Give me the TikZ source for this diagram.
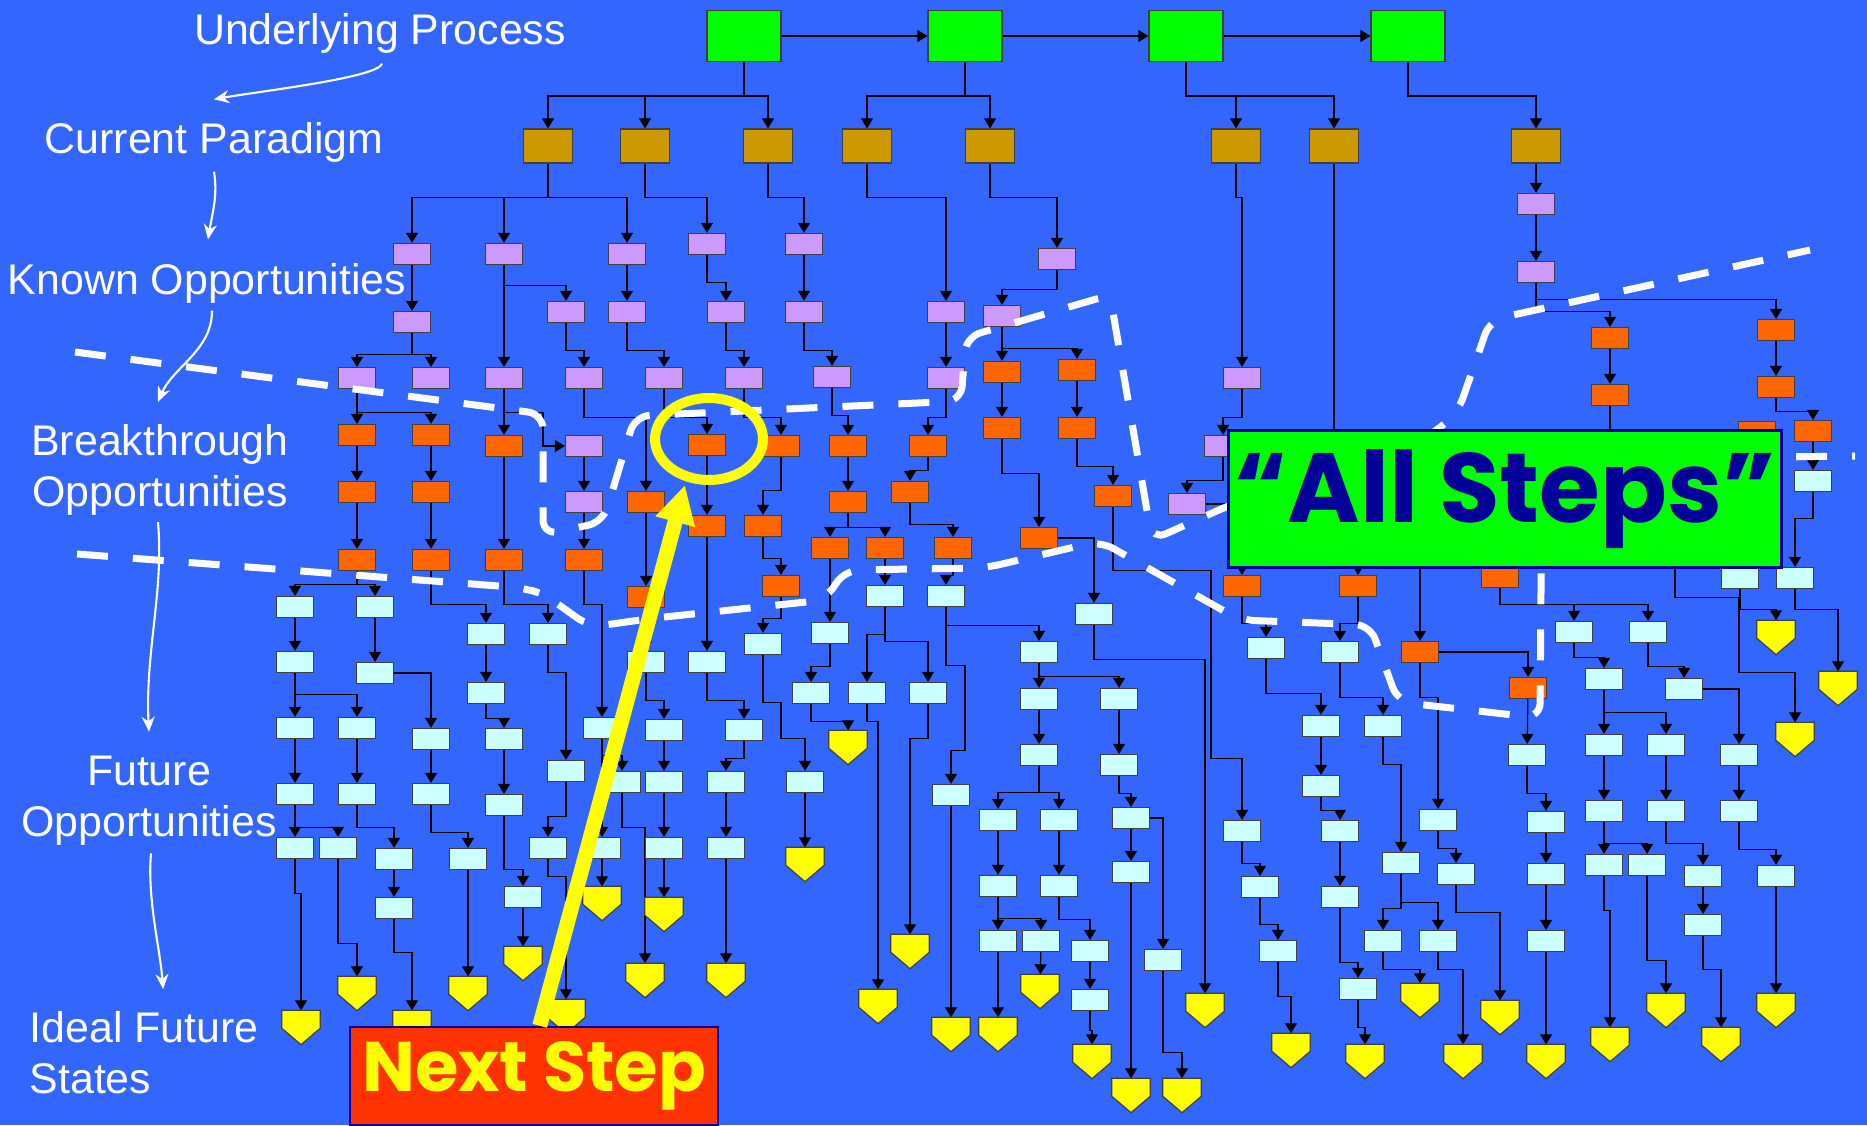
\documentclass[tikz,border=0pt]{standalone}
\usepackage{fontspec}
\setmainfont{Liberation Sans}
\newfontfamily\comicfont{Poppins}
\usepackage{tikz}
\usetikzlibrary{arrows.meta, backgrounds, calc}

\definecolor{slideblue}{HTML}{3366FF}
\definecolor{stagegreen}{HTML}{00FF00}
\definecolor{paradigmgold}{HTML}{CC9900}
\definecolor{knownlilac}{HTML}{CC99FF}
\definecolor{breakorange}{HTML}{FF6600}
\definecolor{futurecyan}{HTML}{CCFFFF}
\definecolor{idealyellow}{HTML}{FFFF00}
\definecolor{nextred}{HTML}{FF3300}
\definecolor{calloutnavy}{HTML}{000099}

% yellow end state: invisible node + pentagon drawn on it
\newcommand{\idealnode}[2]{%
  \node[idealbox] (#1) at (#2) {};
  \filldraw[idealfill] (#1.north west) -- (#1.north east)
    -- ([yshift=-1.8mm]#1.north east) -- (#1.south)
    -- ([yshift=-1.8mm]#1.north west) -- cycle;
}

\begin{document}
\begin{tikzpicture}[
    x=0.1mm, y=-0.1mm,
    >={Triangle[length=1.0mm, width=1.2mm]},
    tile/.style={
        draw=black!75, line width=0.35pt, inner sep=0pt,
        minimum width=3.7mm, minimum height=2.1mm,
    },
    stagebox/.style={tile, fill=stagegreen, minimum width=7.4mm, minimum height=5.1mm},
    paradigmbox/.style={tile, fill=paradigmgold, minimum width=4.9mm, minimum height=3.4mm},
    knownbox/.style={tile, fill=knownlilac},
    breakbox/.style={tile, fill=breakorange},
    futurebox/.style={tile, fill=futurecyan},
    idealbox/.style={inner sep=0pt, minimum width=3.7mm, minimum height=3.3mm},
    idealfill/.style={fill=idealyellow, draw=black!75, line width=0.35pt},
    arr/.style={->, line width=0.35pt},
    lbl/.style={text=white, inner sep=0pt, font=\fontsize{12.2}{14.5}\selectfont},
    warr/.style={white, line width=0.6pt, -{Stealth[length=1.5mm, width=1.3mm]}},
    boundary/.style={white, line width=0.7mm, dash pattern=on 3.1mm off 2.5mm,
        rounded corners=1.5mm},
    ring/.style={draw=idealyellow, line width=1mm},
    pointer/.style={draw=idealyellow, line width=1.5mm,
        -{Triangle[length=3.8mm, width=3.8mm]}},
    callout/.style={draw=calloutnavy, line width=0.25mm, inner sep=0pt},
]

\useasboundingbox (0,0) rectangle (1867,1125);
\begin{scope}[on background layer]
\fill[slideblue] (0,0) rectangle (1867,1125);
\end{scope}

% --- Underlying process -------------------------------------
\node[stagebox] (g1) at (744,36) {};
\node[stagebox] (g2) at (965,36) {};
\node[stagebox] (g3) at (1186,36) {};
\node[stagebox] (g4) at (1408,36) {};

% --- Current paradigm ---------------------------------------
\node[paradigmbox] (p1) at (548,146) {};
\node[paradigmbox] (p2) at (645,146) {};
\node[paradigmbox] (p3) at (768,146) {};
\node[paradigmbox] (p4) at (867,146) {};
\node[paradigmbox] (p5) at (990,146) {};
\node[paradigmbox] (p6) at (1236,146) {};
\node[paradigmbox] (p7) at (1334,146) {};
\node[paradigmbox] (p8) at (1536,146) {};

% --- Known opportunities ------------------------------------
\node[knownbox] (k1) at (412,254) {};
\node[knownbox] (k2) at (504,254) {};
\node[knownbox] (k3) at (627,254) {};
\node[knownbox] (k4) at (707,244) {};
\node[knownbox] (k5) at (804,244) {};
\node[knownbox] (k6) at (946,312) {};
\node[knownbox] (k7) at (1057,259) {};
\node[knownbox] (k8) at (412,322) {};
\node[knownbox] (k9) at (566,312) {};
\node[knownbox] (k10) at (627,312) {};
\node[knownbox] (k11) at (726,312) {};
\node[knownbox] (k12) at (804,312) {};
\node[knownbox] (k13) at (1002,316) {};
\node[knownbox] (k14) at (357,378) {};
\node[knownbox] (k15) at (431,378) {};
\node[knownbox] (k16) at (504,378) {};
\node[knownbox] (k17) at (584,378) {};
\node[knownbox] (k18) at (664,378) {};
\node[knownbox] (k19) at (744,378) {};
\node[knownbox] (k20) at (832,377) {};
\node[knownbox] (k21) at (946,378) {};
\node[knownbox] (k22) at (1242,378) {};
\node[knownbox] (k23) at (1536,204) {};
\node[knownbox] (k24) at (1536,272) {};
\node[knownbox] (k25) at (584,446) {};
\node[knownbox] (k26) at (584,502) {};
\node[knownbox] (k27) at (1223,446) {};
\node[knownbox] (k28) at (1187,504) {};

% --- Breakthrough opportunities -----------------------------
\node[breakbox] (b1) at (357,435) {};
\node[breakbox] (b2) at (431,435) {};
\node[breakbox] (b3) at (357,492) {};
\node[breakbox] (b4) at (431,492) {};
\node[breakbox] (b5) at (357,560) {};
\node[breakbox] (b6) at (431,560) {};
\node[breakbox] (b7) at (504,446) {};
\node[breakbox] (b8) at (504,560) {};
\node[breakbox] (b9) at (584,560) {};
\node[breakbox] (b10) at (646,502) {};
\node[breakbox] (b11) at (646,597) {};
\node[breakbox] (b12) at (707,445) {};
\node[breakbox] (b13) at (707,526) {};
\node[breakbox] (b14) at (781,446) {};
\node[breakbox] (b15) at (763,526) {};
\node[breakbox] (b16) at (781,586) {};
\node[breakbox] (b17) at (848,446) {};
\node[breakbox] (b18) at (848,502) {};
\node[breakbox] (b19) at (830,548) {};
\node[breakbox] (b20) at (885,548) {};
\node[breakbox] (b21) at (928,446) {};
\node[breakbox] (b22) at (910,492) {};
\node[breakbox] (b23) at (953,548) {};
\node[breakbox] (b24) at (1002,372) {};
\node[breakbox] (b25) at (1077,370) {};
\node[breakbox] (b26) at (1002,428) {};
\node[breakbox] (b27) at (1077,428) {};
\node[breakbox] (b28) at (1039,538) {};
\node[breakbox] (b29) at (1113,496) {};
\node[breakbox] (b30) at (1242,586) {};
\node[breakbox] (b31) at (1358,586) {};
\node[breakbox] (b32) at (1420,652) {};
\node[breakbox] (b33) at (1500,577) {};
\node[breakbox] (b34) at (1528,688) {};
\node[breakbox] (b35) at (1610,338) {};
\node[breakbox] (b36) at (1610,395) {};
\node[breakbox] (b37) at (1776,330) {};
\node[breakbox] (b38) at (1776,387) {};
\node[breakbox] (b39) at (1757,432) {};
\node[breakbox] (b40) at (1813,431) {};

% --- Future opportunities -----------------------------------
\node[futurebox] (f1) at (295,607) {};
\node[futurebox] (f2) at (375,607) {};
\node[futurebox] (f3) at (295,662) {};
\node[futurebox] (f4) at (375,673) {};
\node[futurebox] (f5) at (295,728) {};
\node[futurebox] (f6) at (357,728) {};
\node[futurebox] (f7) at (431,739) {};
\node[futurebox] (f8) at (486,634) {};
\node[futurebox] (f9) at (486,693) {};
\node[futurebox] (f10) at (504,739) {};
\node[futurebox] (f11) at (548,634) {};
\node[futurebox] (f12) at (566,771) {};
\node[futurebox] (f13) at (602,728) {};
\node[futurebox] (f14) at (646,662) {};
\node[futurebox] (f15) at (664,730) {};
\node[futurebox] (f16) at (707,662) {};
\node[futurebox] (f17) at (744,730) {};
\node[futurebox] (f18) at (763,644) {};
\node[futurebox] (f19) at (830,633) {};
\node[futurebox] (f20) at (885,596) {};
\node[futurebox] (f21) at (946,596) {};
\node[futurebox] (f22) at (811,693) {};
\node[futurebox] (f23) at (867,693) {};
\node[futurebox] (f24) at (928,693) {};
\node[futurebox] (f25) at (1039,652) {};
\node[futurebox] (f26) at (951,795) {};
\node[futurebox] (f27) at (1039,699) {};
\node[futurebox] (f28) at (1119,699) {};
\node[futurebox] (f29) at (1039,755) {};
\node[futurebox] (f30) at (998,820) {};
\node[futurebox] (f31) at (1059,820) {};
\node[futurebox] (f32) at (998,886) {};
\node[futurebox] (f33) at (998,941) {};
\node[futurebox] (f34) at (1041,941) {};
\node[futurebox] (f35) at (1059,886) {};
\node[futurebox] (f36) at (1090,951) {};
\node[futurebox] (f37) at (1090,1000) {};
\node[futurebox] (f38) at (1119,765) {};
\node[futurebox] (f39) at (1131,818) {};
\node[futurebox] (f40) at (1131,872) {};
\node[futurebox] (f41) at (1163,960) {};
\node[futurebox] (f42) at (1094,614) {};
\node[futurebox] (f43) at (1242,831) {};
\node[futurebox] (f44) at (1260,887) {};
\node[futurebox] (f45) at (1278,951) {};
\node[futurebox] (f46) at (1266,648) {};
\node[futurebox] (f47) at (1340,652) {};
\node[futurebox] (f48) at (1321,726) {};
\node[futurebox] (f49) at (1383,726) {};
\node[futurebox] (f50) at (1321,786) {};
\node[futurebox] (f51) at (1340,831) {};
\node[futurebox] (f52) at (1340,897) {};
\node[futurebox] (f53) at (1358,989) {};
\node[futurebox] (f54) at (1401,863) {};
\node[futurebox] (f55) at (1383,941) {};
\node[futurebox] (f56) at (1438,941) {};
\node[futurebox] (f57) at (1438,820) {};
\node[futurebox] (f58) at (1456,874) {};
\node[futurebox] (f59) at (1527,755) {};
\node[futurebox] (f60) at (1546,822) {};
\node[futurebox] (f61) at (1546,874) {};
\node[futurebox] (f62) at (1546,941) {};
\node[futurebox] (f63) at (1574,632) {};
\node[futurebox] (f64) at (1648,632) {};
\node[futurebox] (f65) at (1604,679) {};
\node[futurebox] (f66) at (1604,745) {};
\node[futurebox] (f67) at (1666,745) {};
\node[futurebox] (f68) at (1684,689) {};
\node[futurebox] (f69) at (1739,755) {};
\node[futurebox] (f70) at (1604,811) {};
\node[futurebox] (f71) at (1604,865) {};
\node[futurebox] (f72) at (1647,865) {};
\node[futurebox] (f73) at (1666,811) {};
\node[futurebox] (f74) at (1703,876) {};
\node[futurebox] (f75) at (1703,925) {};
\node[futurebox] (f76) at (1739,811) {};
\node[futurebox] (f77) at (1776,876) {};
\node[futurebox] (f78) at (1813,481) {};
\node[futurebox] (f79) at (1795,578) {};
\node[futurebox] (f80) at (1740,578) {};
\node[futurebox] (f81) at (295,794) {};
\node[futurebox] (f82) at (357,794) {};
\node[futurebox] (f83) at (431,794) {};
\node[futurebox] (f84) at (504,805) {};
\node[futurebox] (f85) at (295,848) {};
\node[futurebox] (f86) at (338,848) {};
\node[futurebox] (f87) at (394,859) {};
\node[futurebox] (f88) at (394,908) {};
\node[futurebox] (f89) at (468,859) {};
\node[futurebox] (f90) at (523,897) {};
\node[futurebox] (f91) at (548,848) {};
\node[futurebox] (f92) at (622,782) {};
\node[futurebox] (f93) at (602,848) {};
\node[futurebox] (f94) at (664,782) {};
\node[futurebox] (f95) at (664,848) {};
\node[futurebox] (f96) at (726,782) {};
\node[futurebox] (f97) at (726,848) {};
\node[futurebox] (f98) at (805,782) {};

% --- Ideal future states ------------------------------------
\idealnode{e1}{301,1027.5}
\idealnode{e2}{357,993.5}
\idealnode{e3}{412,1027.5}
\idealnode{e4}{468,993.5}
\idealnode{e5}{523,963.5}
\idealnode{e6}{566,1016.5}
\idealnode{e7}{602,903.5}
\idealnode{e8}{645,980.5}
\idealnode{e9}{664,914.5}
\idealnode{e10}{726,980.5}
\idealnode{e11}{805,864.5}
\idealnode{e12}{848,747.5}
\idealnode{e13}{878,1006.5}
\idealnode{e14}{910,951.5}
\idealnode{e15}{951,1034.5}
\idealnode{e16}{998,1034.5}
\idealnode{e17}{1040,991.5}
\idealnode{e18}{1092,1061.5}
\idealnode{e19}{1131,1095.5}
\idealnode{e20}{1182,1095.5}
\idealnode{e21}{1205,1010.5}
\idealnode{e22}{1291,1050.5}
\idealnode{e23}{1365,1061.5}
\idealnode{e24}{1420,1000.5}
\idealnode{e25}{1463,1061.5}
\idealnode{e26}{1500,1017.5}
\idealnode{e27}{1546,1061.5}
\idealnode{e28}{1610,1044.5}
\idealnode{e29}{1666,1010.5}
\idealnode{e30}{1721,1044.5}
\idealnode{e31}{1776,1010.5}
\idealnode{e32}{1776,637.5}
\idealnode{e33}{1795,739.5}
\idealnode{e34}{1838,688.5}

% --- Connectors ---------------------------------------------
\begin{scope}[on background layer]
\draw[arr] (g1) -- (g2);
\draw[arr] (g2) -- (g3);
\draw[arr] (g3) -- (g4);
\draw[arr] (g1.south) -- ++(0,34) -| (p1.north);
\draw[arr] (g1.south) -- ++(0,34) -| (p2.north);
\draw[arr] (g1.south) -- ++(0,34) -| (p3.north);
\draw[arr] (g2.south) -- ++(0,34) -| (p4.north);
\draw[arr] (g2.south) -- ++(0,34) -| (p5.north);
\draw[arr] (g3.south) -- ++(0,34) -| (p6.north);
\draw[arr] (g3.south) -- ++(0,34) -| (p7.north);
\draw[arr] (g4.south) -- ++(0,34) -| (p8.north);

\draw[arr] (p1.south) -- ++(0,34) -| (k1.north);
\draw[arr] (p1.south) -- ++(0,34) -| (k2.north);
\draw[arr] (p1.south) -- ++(0,34) -| (k3.north);
\draw[arr] (p2.south) -- ++(0,34) -| (k4.north);
\draw[arr] (p3.south) -- ++(0,34) -| (k5.north);
\draw[arr] (p4.south) -- ++(0,34) -| (k6.north);
\draw[arr] (p5.south) -- ++(0,34) -| (k7.north);
\draw[arr] (p6.south) -- ++(0,34) -| (k22.north);
\draw[arr] (p8) -- (k23);
\draw[arr] (p7.south) -- ++(0,330) -| (b32.north);

\draw[arr] (k1) -- (k8);
\draw[arr] (k2.south) -- ++(0,20) -| (k9.north);
\draw[arr] (k2) -- (k16);
\draw[arr] (k3) -- (k10);
\draw[arr] (k4.south) -- ++(0,27) -| (k11.north);
\draw[arr] (k5) -- (k12);
\draw[arr] (k6) -- (k21);
\draw[arr] (k7.south) -- ++(0,19) -| (k13.north);
\draw[arr] (k8.south) -- ++(0,21) -| (k14.north);
\draw[arr] (k8.south) -- ++(0,21) -| (k15.north);
\draw[arr] (k9.south) -- ++(0,27) -| (k17.north);
\draw[arr] (k10.south) -- ++(0,27) -| (k18.north);
\draw[arr] (k11.south) -- ++(0,27) -| (k19.north);
\draw[arr] (k12.south) -- ++(0,27) -| (k20.north);
\draw[arr] (k13.south) -- ++(0,21) -| (b24.north);
\draw[arr] (k13.south) -- ++(0,21) -| (b25.north);
\draw[arr] (k23) -- (k24);
\draw[arr] (k24.south) -- ++(0,16.5) -| (b37.north);
\draw[arr] (k24.south) -- ++(0,28.5) -| (b35.north);
\draw[arr] (k22.south) -- ++(0,28.5) -| (k27.north);
\draw[arr] (k27.south) -- ++(0,23.5) -| (k28.north);
\draw[arr] (k16.south) |- ++(39,23.5) |- (k25.west);
\draw[arr] (k25) -- (k26);
\draw[arr] (k26) -- (b9);
\draw[arr] (k14.south) -- ++(0,23.5) -| (b1.north);
\draw[arr] (k14.south) -- ++(0,23.5) -| (b2.north);
\draw[arr] (k16) -- (b7);
\draw[arr] (k17.south) -- ++(0,28.5) -| (b10.north);
\draw[arr] (k18.south) -- ++(0,28.5) -| (b12.north);
\draw[arr] (k19.south) -- ++(0,28.5) -| (b14.north);
\draw[arr] (k20.south) -- ++(0,27.5) -| (b17.north);
\draw[arr] (k21.south) -- ++(0,28.5) -| (b21.north);
\draw[arr] (k28.east) -| (b30.north);
\draw[arr] (k28.east) -| (b31.north);

\draw[arr] (b1) -- (b3);
\draw[arr] (b2) -- (b4);
\draw[arr] (b3) -- (b5);
\draw[arr] (b4) -- (b6);
\draw[arr] (b7) -- (b8);
\draw[arr] (b10) -- (b11);
\draw[arr] (b12) -- (b13);
\draw[arr] (b14.south) -- ++(0,33.5) -| (b15.north);
\draw[arr] (b15.south) -- ++(0,21.5) -| (b16.north);
\draw[arr] (b17) -- (b18);
\draw[arr] (b18.south) -- ++(0,14.5) -| (b19.north);
\draw[arr] (b18.south) -- ++(0,14.5) -| (b20.north);
\draw[arr] (b21.south) -- ++(0,13.5) -| (b22.north);
\draw[arr] (b22.south) -- ++(0,21.5) -| (b23.north);
\draw[arr] (b24) -- (b26);
\draw[arr] (b25) -- (b27);
\draw[arr] (b26.south) -- ++(0,34.5) -| (b28.north);
\draw[arr] (b27.south) -- ++(0,27.5) -| (b29.north);
\draw[arr] (b35) -- (b36);
\draw[arr] (b37) -- (b38);
\draw[arr] (b38.south) -- ++(0,13.5) -| (b40.north);
\draw[arr] (b36.south) -- ++(0,100) -| (b33.north);
\draw[arr] (b32.east) -| (b34.north);

\draw[arr] (b5.south) -- ++(0,13.5) -| (f1.north);
\draw[arr] (b5.south) -- ++(0,13.5) -| (f2.north);
\draw[arr] (b6.south) -- ++(0,33.5) -| (f8.north);
\draw[arr] (b8.south) -- ++(0,33.5) -| (f11.north);
\draw[arr] (b9.south) -- ++(0,33.5) -| (f13.north);
\draw[arr] (b11) -- (f14);
\draw[arr] (b13) -- (f16);
\draw[arr] (b16.south) -- ++(0,21.5) -| (f18.north);
\draw[arr] (b19) -- (f19);
\draw[arr] (b20) -- (f20);
\draw[arr] (b23.south) -- ++(0,16.5) -| (f21.north);
\draw[arr] (b28.east) -| (f42.north);
\draw[arr] (b29.south) -- ++(0,63.5) -| ++(98,188) -| (f43.north);
\draw[arr] (b30.south) -- ++(0,26.5) -| (f46.north);
\draw[arr] (b31.south) -- ++(0,26.5) -| (f47.north);
\draw[arr] (b32.south) -- ++(0,34.5) -| (f57.north);
\draw[arr] (b33.south) -- ++(0,16.5) -| (f63.north);
\draw[arr] (b33.south) -- ++(0,16.5) -| (f64.north);
\draw[arr] (b34) -- (f59);
\draw[arr] (b39.south) -- ++(0,60) -| (f80.north);
\draw[arr] (b40) -- (f78);

\draw[arr] (f1) -- (f3);
\draw[arr] (f2) -- (f4);
\draw[arr] (f3.south) -- ++(0,21.5) -| (f5.north);
\draw[arr] (f3.south) -- ++(0,21.5) -| (f6.north);
\draw[arr] (f4.east) -| (f7.north);
\draw[arr] (f8) -- (f9);
\draw[arr] (f9.south) -- ++(0,14.5) -| (f10.north);
\draw[arr] (f11.south) -- ++(0,27.5) -| (f12.north);
\draw[arr] (f13.south) -- ++(0,16.5) -| (f92.north);
\draw[arr] (f13) -- (f93);
\draw[arr] (f14.south) -- ++(0,27.5) -| (f15.north);
\draw[arr] (f16.south) -- ++(0,27.5) -| (f17.north);
\draw[arr] (f18.south) -- ++(0,47.5) -| ++(18,36) -| (f98.north);
\draw[arr] (f19.south) -- ++(0,22.5) -| (f22.north);
\draw[arr] (f20.south) -- ++(0,27.5) -| (f23.north);
\draw[arr] (f20.south) -- ++(0,34.5) -| (f24.north);
\draw[arr] (f21.south) -- ++(0,18.5) -| (f25.north);
\draw[arr] (f21.south) -- ++(0,58.5) -| ++(19,85) -| (f26.north);
\draw[arr] (f25) -- (f27);
\draw[arr] (f25.south) -- ++(0,13.5) -| (f28.north);
\draw[arr] (f27) -- (f29);
\draw[arr] (f28) -- (f38);
\draw[arr] (f29.south) -- ++(0,26.5) -| (f30.north);
\draw[arr] (f29.south) -- ++(0,26.5) -| (f31.north);
\draw[arr] (f30) -- (f32);
\draw[arr] (f31) -- (f35);
\draw[arr] (f32.south) -- ++(0,21.5) -| (f33.north);
\draw[arr] (f32.south) -- ++(0,21.5) -| (f34.north);
\draw[arr] (f35.south) -- ++(0,22.5) -| (f36.north);
\draw[arr] (f36) -- (f37);
\draw[arr] (f38.south) -- ++(0,17.5) -| (f39.north);
\draw[arr] (f39) -- (f40);
\draw[arr] (f39.east) -| (f41.north);
\draw[arr] (f43.south) -- ++(0,21.5) -| (f44.north);
\draw[arr] (f44.south) -- ++(0,26.5) -| (f45.north);
\draw[arr] (f46.south) -- ++(0,34.5) -| (f48.north);
\draw[arr] (f47.south) -- ++(0,34.5) -| (f49.north);
\draw[arr] (f48) -- (f50);
\draw[arr] (f49.south) -- ++(0,27.5) -| (f54.north);
\draw[arr] (f50.south) -- ++(0,13.5) -| (f51.north);
\draw[arr] (f51) -- (f52);
\draw[arr] (f52.south) -- ++(0,54.5) -| (f53.north);
\draw[arr] (f54.south) -- ++(0,34.5) -| (f55.north);
\draw[arr] (f54.south) -- ++(0,28.5) -| (f56.north);
\draw[arr] (f57.south) -- ++(0,17.5) -| (f58.north);
\draw[arr] (f59.south) -- ++(0,27.5) -| (f60.north);
\draw[arr] (f60) -- (f61);
\draw[arr] (f61) -- (f62);
\draw[arr] (f63.south) -- ++(0,14.5) -| (f65.north);
\draw[arr] (f64.south) -- ++(0,23.5) -| (f68.north);
\draw[arr] (f65.south) -- ++(0,22.5) -| (f66.north);
\draw[arr] (f65.south) -- ++(0,22.5) -| (f67.north);
\draw[arr] (f66) -- (f70);
\draw[arr] (f67) -- (f73);
\draw[arr] (f68.east) -| (f69.north);
\draw[arr] (f69) -- (f76);
\draw[arr] (f70.south) -- ++(0,21.5) -| (f71.north);
\draw[arr] (f70.south) -- ++(0,21.5) -| (f72.north);
\draw[arr] (f73.south) -- ++(0,21.5) -| (f74.north);
\draw[arr] (f74) -- (f75);
\draw[arr] (f76.south) -- ++(0,27.5) -| (f77.north);
\draw[arr] (f78.south) -- ++(0,26.5) -| (f79.north);
\draw[arr] (f5) -- (f81);
\draw[arr] (f6) -- (f82);
\draw[arr] (f7) -- (f83);
\draw[arr] (f10) -- (f84);
\draw[arr] (f81.south) -- ++(0,22.5) -| (f85.north);
\draw[arr] (f81.south) -- ++(0,22.5) -| (f86.north);
\draw[arr] (f82.south) -- ++(0,22.5) -| (f87.north);
\draw[arr] (f87) -- (f88);
\draw[arr] (f83.south) -- ++(0,27.5) -| (f89.north);
\draw[arr] (f84.south) -- ++(0,53.5) -| (f90.north);
\draw[arr] (f12.south) -- ++(0,34.5) -| (f91.north);
\draw[arr] (f15) -- (f94);
\draw[arr] (f94) -- (f95);
\draw[arr] (f17.south) -- ++(0,17.5) -| (f96.north);
\draw[arr] (f96) -- (f97);

\draw[arr] (f85.south) -- ++(0,34.5) -| (e1.north);
\draw[arr] (f86.south) -- ++(0,84.5) -| (e2.north);
\draw[arr] (f88.south) -- ++(0,33.5) -| (e3.north);
\draw[arr] (f89) -- (e4);
\draw[arr] (f90) -- (e5);
\draw[arr] (f91.south) -- ++(0,17.5) -| (e6.north);
\draw[arr] (f93) -- (e7);
\draw[arr] (f92.south) -- ++(0,34.5) -| (e8.north);
\draw[arr] (f95) -- (e9);
\draw[arr] (f97) -- (e10);
\draw[arr] (f98) -- (e11);
\draw[arr] (f22.south) -- ++(0,17.5) -| (e12.north);
\draw[arr] (f23.south) -- ++(0,17.5) -| (e13.north);
\draw[arr] (f24.south) -- ++(0,34.5) -| (e14.north);
\draw[arr] (f26) -- (e15);
\draw[arr] (f33) -- (e16);
\draw[arr] (f34) -- (e17);
\draw[arr] (f37.south) -- ++(0,19.5) -| (e18.north);
\draw[arr] (f40) -- (e19);
\draw[arr] (f41.south) -- ++(0,81.5) -| (e20.north);
\draw[arr] (f42.south) -- ++(0,34.5) -| (e21.north);
\draw[arr] (f45.south) -- ++(0,34.5) -| (e22.north);
\draw[arr] (f53.south) -- ++(0,27.5) -| (e23.north);
\draw[arr] (f55.south) -- ++(0,17.5) -| (e24.north);
\draw[arr] (f56.south) -- ++(0,17.5) -| (e25.north);
\draw[arr] (f58.south) -- ++(0,27.5) -| (e26.north);
\draw[arr] (f62) -- (e27);
\draw[arr] (f71.south) -- ++(0,34.5) -| (e28.north);
\draw[arr] (f72.south) -- ++(0,84.5) -| (e29.north);
\draw[arr] (f75.south) -- ++(0,33.5) -| (e30.north);
\draw[arr] (f77) -- (e31);
\draw[arr] (f80.south) -- ++(0,20.5) -| (e32.north);
\draw[arr] (f79.south) -- ++(0,20.5) -| (e34.north);
\draw[arr] (b36.south) -- ++(0,95) -| ++(65,96) -| ++(64,75) -| (e33.north);
\end{scope}

% --- Stage boundaries ---------------------------------------
\draw[boundary] (75,352) -- (543,414) -- (543,535) -- (603,522) -- (635,416)
    -- (961,401) -- (966,337) -- (1110,295) -- (1152,540) -- (1230,505)
    -- (1430,436) -- (1458,412) -- (1490,320) -- (1810,250);
\draw[boundary] (77,554) -- (525,588) -- (545,595) -- (590,627) -- (655,618)
    -- (825,600) -- (845,570) -- (985,568) -- (1100,541) -- (1240,620)
    -- (1370,625) -- (1398,702) -- (1540,718) -- (1542,460) -- (1855,456);

% --- Call-outs ----------------------------------------------
\node[callout, fill=stagegreen, text=calloutnavy, minimum width=55.3mm, minimum height=13.7mm,
      font=\comicfont\bfseries\fontsize{28}{34}\selectfont] (allsteps) at (1505,499) {“All Steps”};
\node[callout, fill=nextred, text=idealyellow, minimum width=36.8mm, minimum height=9.8mm,
      font=\comicfont\bfseries\fontsize{20}{24}\selectfont] (nextstep) at (534,1076) {Next Step};
\draw[ring] ($(b12)+(2,-6)$) ellipse [x radius=5.4mm, y radius=4.1mm];
\draw[pointer] ($(nextstep.north west)+(191,0)$) -- ($(b12)+(-22,40)$);

% --- Level labels -------------------------------------------
\node[lbl] (lblprocess) at (380,33) {Underlying Process};
\node[lbl] (lblparadigm) at (214,142) {Current Paradigm};
\node[lbl] (lblknown) at (207,283) {Known Opportunities};
\node[lbl, align=center] (lblbreak) at (160,470) {Breakthrough\\Opportunities};
\node[lbl, align=center] (lblfuture) at (149,801) {Future\\Opportunities};
\node[lbl, align=left, anchor=west] (lblideal) at (29,1053) {Ideal Future\\States};

\draw[warr] ($(lblprocess.south)+(2,10)$) .. controls +(-4,14) and +(45,-8) .. ($(lblparadigm.north)+(0,-22)$);
\draw[warr] ($(lblparadigm.south)+(0,9)$) .. controls +(4,25) and +(4,-25) .. ($(lblknown.north)+(1,-23)$);
\draw[warr] ($(lblknown.south)+(5,7)$) .. controls +(0,40) and +(15,-35) .. ($(lblbreak.north)+(-2,-22)$);
\draw[warr] ($(lblbreak.south)+(-2,6)$) .. controls +(6,70) and +(-4,-80) .. ($(lblfuture.north)+(0,-24)$);
\draw[warr] ($(lblfuture.south)+(2,7)$) .. controls +(-4,45) and +(-3,-40) .. ($(lblideal.north)+(19,-22)$);

\end{tikzpicture}
\end{document}
